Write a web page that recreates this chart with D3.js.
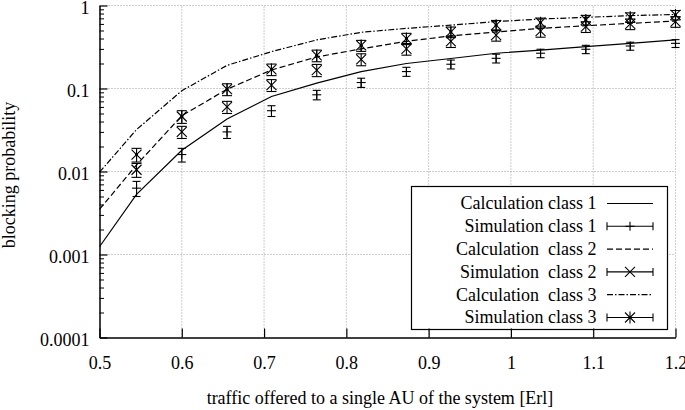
<!DOCTYPE html>
<html>
<head>
<meta charset="utf-8">
<script src="https://cdn.jsdelivr.net/npm/d3@7"></script>
<style>
  html, body { margin: 0; padding: 0; background: #fff; }
  svg { display: block; font-family: "Liberation Serif", "DejaVu Serif", serif; }
  text { white-space: pre; }
</style>
</head>
<body>
<svg id="chart" width="685" height="410"></svg>
<script>
// ---- data ----
const xCalc = [0.5, 0.545, 0.6, 0.655, 0.709, 0.764, 0.818, 0.873, 0.927, 0.982, 1.036, 1.091, 1.145, 1.2];
const xSim  = [0.545, 0.6, 0.655, 0.709, 0.764, 0.818, 0.873, 0.927, 0.982, 1.036, 1.091, 1.145, 1.2];

const calc1 = [0.00124, 0.0053, 0.018, 0.043, 0.08, 0.116, 0.16, 0.2, 0.23, 0.266, 0.29, 0.32, 0.35, 0.385];
const calc2 = [0.0035, 0.012, 0.047, 0.098, 0.167, 0.24, 0.3, 0.37, 0.43, 0.48, 0.53, 0.57, 0.61, 0.65];
const calc3 = [0.0098, 0.032, 0.094, 0.19, 0.278, 0.385, 0.475, 0.53, 0.58, 0.64, 0.687, 0.72, 0.755, 0.78];

const sim1 = [0.0063, 0.016, 0.03, 0.054, 0.084, 0.118, 0.16, 0.196, 0.231, 0.266, 0.297, 0.325, 0.35];
const err1 = [0.0013, 0.003, 0.005, 0.008, 0.011, 0.015, 0.02, 0.024, 0.028, 0.031, 0.034, 0.036, 0.038];
const sim2 = [0.0105, 0.03, 0.06, 0.11, 0.167, 0.225, 0.3, 0.37, 0.44, 0.49, 0.555, 0.6, 0.64];
const err2 = [0.002, 0.005, 0.01, 0.018, 0.028, 0.037, 0.048, 0.058, 0.068, 0.075, 0.082, 0.088, 0.094];
const sim3 = [0.016, 0.046, 0.098, 0.17, 0.25, 0.33, 0.4, 0.48, 0.58, 0.62, 0.67, 0.72, 0.77];
const err3 = [0.003, 0.008, 0.016, 0.027, 0.04, 0.05, 0.062, 0.07, 0.08, 0.085, 0.09, 0.095, 0.1];

const xTicks = [0.5, 0.6, 0.7, 0.8, 0.9, 1, 1.1, 1.2];
const yTicks = [0.0001, 0.001, 0.01, 0.1, 1];
const yTickLabels = ["0.0001", "0.001", "0.01", "0.1", "1"];

const legendLabels = ["Calculation class 1", "Simulation class 1", "Calculation  class 2",
                      "Simulation  class 2", "Calculation  class 3", "Simulation class 3"];
const xTitle = "traffic offered to a single AU of the system [Erl]";
const yTitle = "blocking probability";

// ---- layout ----
const svg = d3.select("#chart");
const x = d3.scaleLinear().domain([0.5, 1.2]).range([99.5, 675.5]);
const y = d3.scaleLog().domain([1e-4, 1]).range([337.5, 5.5]);
const FS = 18;

// grid
const grid = svg.append("g").attr("stroke", "#9a9a9a").attr("stroke-width", 1)
  .attr("stroke-dasharray", "1,2").attr("fill", "none");
xTicks.slice(1).forEach(v => {
  grid.append("line").attr("x1", x(v)).attr("x2", x(v)).attr("y1", y(1e-4)).attr("y2", y(1));
});
yTicks.slice(1).forEach(v => {
  grid.append("line").attr("x1", x(0.5)).attr("x2", x(1.2)).attr("y1", y(v)).attr("y2", y(v));
});

// curves
const line = d3.line().x(d => x(d[0])).y(d => y(d[1]));
const calcs = [
  { data: calc1, dash: null },
  { data: calc2, dash: "6,3" },
  { data: calc3, dash: "6,2,1.5,2" }
];
calcs.forEach(c => {
  svg.append("path").datum(xCalc.map((xv, i) => [xv, c.data[i]]))
    .attr("d", line).attr("fill", "none").attr("stroke", "#000").attr("stroke-width", 1.2)
    .attr("stroke-dasharray", c.dash);
});

// markers
function marker(g, type, cx, cy) {
  const s = 5;
  const st = { stroke: "#000", "stroke-width": 1.1 };
  const add = (x1, y1, x2, y2) => {
    const l = g.append("line").attr("x1", x1).attr("y1", y1).attr("x2", x2).attr("y2", y2);
    Object.entries(st).forEach(([k, v]) => l.attr(k, v));
  };
  if (type === "plus") {
    add(cx - 4.5, cy, cx + 4.5, cy); add(cx, cy - 4.5, cx, cy + 4.5);
  } else if (type === "x") {
    add(cx - s, cy - s, cx + s, cy + s); add(cx - s, cy + s, cx + s, cy - s);
  } else {
    add(cx - s, cy - s, cx + s, cy + s); add(cx - s, cy + s, cx + s, cy - s);
    add(cx, cy - 6, cx, cy + 6); add(cx - 1.5, cy, cx + 1.5, cy);
    g.append("circle").attr("cx", cx).attr("cy", cy).attr("r", 1.4).attr("fill", "#000");
  }
}

const sims = [
  { data: sim1, err: err1, type: "plus", cap: 4 },
  { data: sim2, err: err2, type: "x", cap: 5 },
  { data: sim3, err: err3, type: "star", cap: 5 }
];
sims.forEach(s => {
  const g = svg.append("g");
  xSim.forEach((xv, i) => {
    const cx = x(xv), cy = y(s.data[i]);
    const yt = y(s.data[i] + s.err[i]), yb = y(s.data[i] - s.err[i]);
    g.append("line").attr("x1", cx).attr("x2", cx).attr("y1", yt).attr("y2", yb)
      .attr("stroke", "#000").attr("stroke-width", 1.1);
    [yt, yb].forEach(yy => g.append("line").attr("x1", cx - s.cap).attr("x2", cx + s.cap)
      .attr("y1", yy).attr("y2", yy).attr("stroke", "#000").attr("stroke-width", 1.1));
    marker(g, s.type, cx, cy);
  });
});

// legend
const lg = svg.append("g");
lg.append("rect").attr("x", 411.5).attr("y", 186.5).attr("width", 256).attr("height", 143)
  .attr("fill", "#fff").attr("stroke", "#000").attr("stroke-width", 1.2);
const rowY = i => 203.5 + i * 22.8;
legendLabels.forEach((lab, i) => {
  const yy = rowY(i);
  lg.append("text").attr("x", 596.5).attr("y", yy).attr("dy", "0.33em")
    .attr("text-anchor", "end").attr("font-size", FS).attr("fill", "#000").text(lab);
  if (i % 2 === 0) {
    const c = calcs[i / 2];
    lg.append("line").attr("x1", 607).attr("x2", 653).attr("y1", yy).attr("y2", yy)
      .attr("stroke", "#000").attr("stroke-width", 1.2).attr("stroke-dasharray", c.dash);
  } else {
    const s = sims[(i - 1) / 2];
    lg.append("line").attr("x1", 607).attr("x2", 653).attr("y1", yy).attr("y2", yy)
      .attr("stroke", "#000").attr("stroke-width", 1.1);
    [607, 653].forEach(xx => lg.append("line").attr("x1", xx).attr("x2", xx)
      .attr("y1", yy - 4).attr("y2", yy + 4).attr("stroke", "#000").attr("stroke-width", 1.1));
    marker(lg, s.type, 630, yy);
  }
});

// axes
const yAxis = d3.axisLeft(y).tickValues(yTicks).tickFormat((d, i) => yTickLabels[i])
  .tickSizeInner(-8).tickSizeOuter(0).tickPadding(10);
const gy = svg.append("g").attr("transform", `translate(${x(0.5)},0)`).call(yAxis);
const minor = [];
yTicks.slice(0, -1).forEach(d => { for (let k = 2; k <= 9; k++) minor.push(d * k); });
svg.append("g").attr("transform", `translate(${x(0.5)},0)`)
  .call(d3.axisLeft(y).tickValues(minor).tickFormat("").tickSizeInner(-4.5).tickSizeOuter(0))
  .call(g => g.select(".domain").remove());

const xAxis = d3.axisBottom(x).tickValues(xTicks).tickFormat(d3.format("")).tickSizeInner(-9)
  .tickSizeOuter(0).tickPadding(19);
const gx = svg.append("g").attr("transform", `translate(0,${y(1e-4)})`).call(xAxis);

[gx, gy].forEach(g => {
  g.selectAll("text").attr("font-size", FS).attr("font-family", "Liberation Serif").attr("fill", "#000");
  g.selectAll("line").attr("stroke", "#000").attr("stroke-width", 1.2);
  g.select(".domain").attr("stroke", "#000").attr("stroke-width", 1.5);
});
gy.selectAll("text").attr("dy", "0.45em");

// titles
svg.append("text").attr("x", 380).attr("y", 404).attr("text-anchor", "middle")
  .attr("font-size", FS).attr("fill", "#000").text(xTitle);
svg.append("text").attr("transform", "translate(15,175) rotate(-90)").attr("text-anchor", "middle")
  .attr("font-size", FS).attr("fill", "#000").text(yTitle);
</script>
</body>
</html>
